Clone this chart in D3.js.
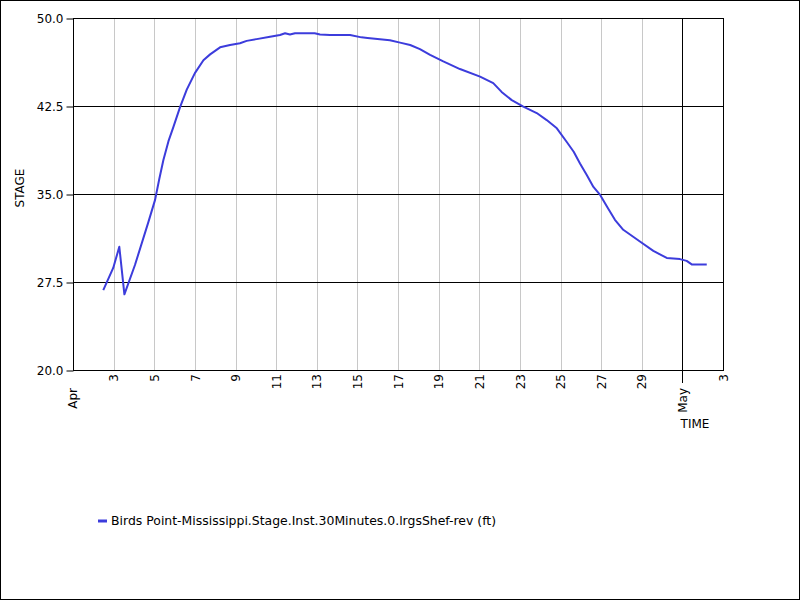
<!DOCTYPE html>
<html><head><meta charset="utf-8">
<script src="https://cdn.jsdelivr.net/npm/d3@7"></script>
<style>body{margin:0;background:#fff}svg{display:block}text{font-family:"DejaVu Sans",Verdana,sans-serif;fill:#000}</style>
</head><body><svg id="c" width="800" height="600"></svg>
<script>
// day of April (May 1 = 31), stage (ft)
const days = [2.49,2.98,3.28,3.53,4.05,4.71,5.04,5.25,5.45,5.7,5.94,6.27,6.6,7.0,7.42,7.75,8.24,8.73,9.22,9.55,10.04,10.7,11.19,11.44,11.68,11.93,12.9,13.16,13.65,14.64,15.2,15.5,16.6,17.1,17.6,18.08,18.58,19.23,20.05,21.04,21.69,22.1,22.6,23.17,23.83,24.32,24.82,25.3,25.65,25.96,26.3,26.62,26.96,27.3,27.68,28.09,28.91,29.57,30.23,30.88,31.21,31.46,32.2];
const stage = [26.8,28.7,30.5,26.45,28.95,32.6,34.5,36.3,37.9,39.5,40.7,42.4,43.9,45.3,46.4,46.9,47.5,47.7,47.85,48.05,48.2,48.4,48.55,48.7,48.6,48.7,48.7,48.6,48.55,48.55,48.35,48.3,48.1,47.9,47.7,47.35,46.85,46.3,45.65,45.0,44.45,43.7,43.0,42.45,41.9,41.3,40.6,39.45,38.6,37.6,36.6,35.6,34.9,33.9,32.8,31.95,30.95,30.15,29.55,29.45,29.3,29.0,29.0];
const yTicks = [20.0,27.5,35.0,42.5,50.0];
const dayTicks = [3,5,7,9,11,13,15,17,19,21,23,25,27,29];
const dayLabels = ["3","5","7","9","11","13","15","17","19","21","23","25","27","29"];
const monthTicks = [1,31];
const monthLabels = ["Apr","May"];
const endTick = 33, endLabel = "3";
const seriesName = "Birds Point-Mississippi.Stage.Inst.30Minutes.0.lrgsShef-rev (ft)";

const base = new Date(2019,3,1);
const toDate = d => new Date(base.getTime() + (d-1)*86400000);
const svg = d3.select("#c");
const L=73,R=723,T=18,B=370;
const x = d3.scaleTime().domain([toDate(1),toDate(33)]).range([L,R]);
const y = d3.scaleLinear().domain([20,50]).range([B,T]);

svg.append("rect").attr("x",0.5).attr("y",0.5).attr("width",799).attr("height",599).attr("fill","#fff").attr("stroke","#000");

svg.append("g").selectAll("line").data(dayTicks).join("line")
  .attr("x1",d=>Math.round(x(toDate(d)))+0.5).attr("x2",d=>Math.round(x(toDate(d)))+0.5)
  .attr("y1",T).attr("y2",B).attr("stroke","#c8c8c8");
svg.append("g").selectAll("line").data(yTicks.slice(1,-1)).join("line")
  .attr("x1",L).attr("x2",R).attr("y1",d=>Math.round(y(d))+0.5).attr("y2",d=>Math.round(y(d))+0.5).attr("stroke","#000");
svg.append("line").attr("x1",Math.round(x(toDate(31)))+0.5).attr("x2",Math.round(x(toDate(31)))+0.5)
  .attr("y1",T).attr("y2",B+13).attr("stroke","#000");
svg.append("rect").attr("x",L+0.5).attr("y",T+0.5).attr("width",R-L).attr("height",B-T).attr("fill","none").attr("stroke","#000");

const ya = svg.append("g").attr("transform",`translate(${L+0.5},0.5)`)
  .call(d3.axisLeft(y).tickValues(yTicks).tickFormat(d3.format(".1f")).tickSize(7).tickPadding(3));
ya.select(".domain").remove();
ya.selectAll("text").style("font-size","12px").style("font-family","DejaVu Sans");
ya.selectAll("line").attr("stroke","#000");

const xa = svg.append("g").attr("transform",`translate(0,${B})`)
  .call(d3.axisBottom(x).tickValues(dayTicks.concat([endTick]).map(toDate)).tickSize(0)
    .tickFormat((d,i)=> i<dayLabels.length ? dayLabels[i] : endLabel));
xa.select(".domain").remove();
xa.selectAll("text").attr("transform","rotate(-90)").attr("text-anchor","end")
  .attr("x",-4).attr("y",0).attr("dy","0.35em").attr("dx",null).style("font-size","12px").style("font-family","DejaVu Sans");
svg.append("g").selectAll("text").data(monthTicks).join("text")
  .attr("transform",d=>`translate(${x(toDate(d))},${B+18}) rotate(-90)`)
  .attr("text-anchor","end").attr("dy","0.35em").style("font-size","12px").text((d,i)=>monthLabels[i]);

svg.append("text").attr("x",695).attr("y",428).attr("text-anchor","middle").style("font-size","12px").text("TIME");
svg.append("text").attr("transform","translate(24,188) rotate(-90)").attr("text-anchor","middle").style("font-size","12px").text("STAGE");

const line = d3.line().x((d,i)=>x(toDate(days[i]))).y((d,i)=>y(stage[i]));
svg.append("path").datum(days).attr("d",line).attr("fill","none").attr("stroke","#3c3cdc").attr("stroke-width",2).attr("stroke-linejoin","round");

svg.append("line").attr("x1",98).attr("x2",107).attr("y1",521).attr("y2",521).attr("stroke","#3c3cdc").attr("stroke-width",3);
svg.append("text").attr("x",111).attr("y",525).style("font-size","12.45px").text(seriesName);
</script></body></html>
